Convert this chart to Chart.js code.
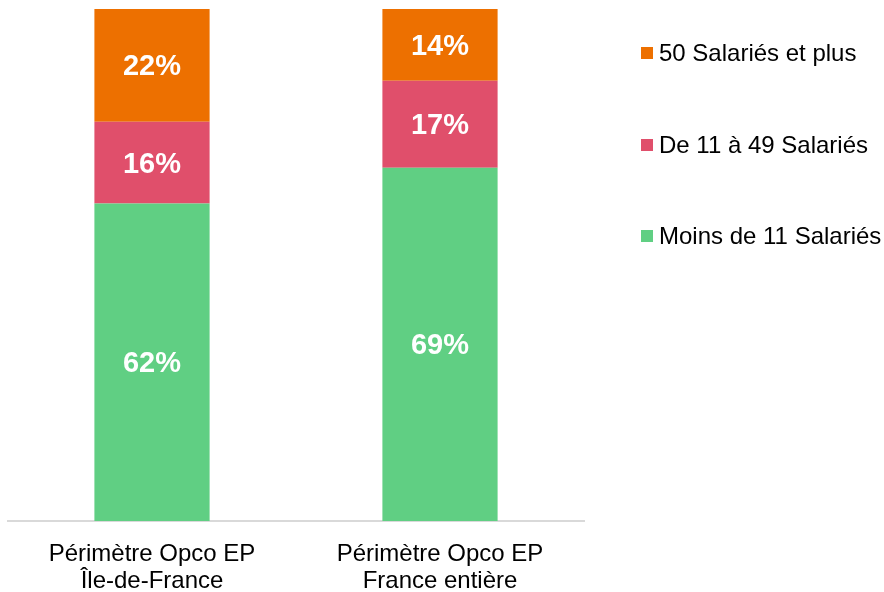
<!DOCTYPE html>
<html>
<head>
<meta charset="utf-8">
<script src="https://cdn.jsdelivr.net/npm/chart.js@4/dist/chart.umd.min.js"></script>
<style>
  html, body { margin: 0; padding: 0; background: #fff; }
  #wrap { width: 884px; height: 592px; }
</style>
</head>
<body>
<div id="wrap"><canvas id="graphique"></canvas></div>
<script>
const categories = [
  ["Périmètre Opco EP", "Île-de-France"],
  ["Périmètre Opco EP", "France entière"]
];
const moins11 = [62, 69];
const de11a49 = [16, 17];
const plus50 = [22, 14];

const police = "'Liberation Sans', Arial, sans-serif";

// étiquettes en % au centre de chaque segment
const etiquettesPlugin = {
  id: "etiquettes",
  afterDatasetsDraw(chart) {
    const ctx = chart.ctx;
    ctx.save();
    ctx.fillStyle = "#ffffff";
    ctx.font = "bold 29px " + police;
    ctx.textAlign = "center";
    ctx.textBaseline = "middle";
    chart.data.datasets.forEach((ds, i) => {
      chart.getDatasetMeta(i).data.forEach((barre, j) => {
        const y = (barre.y + barre.base) / 2;
        ctx.fillText(ds.data[j] + "%", barre.x, y + 2);
      });
    });
    ctx.restore();
  }
};

// légende à droite, dans l'ordre inverse des séries
const legendePlugin = {
  id: "legende",
  afterDraw(chart) {
    const ctx = chart.ctx;
    const x = chart.chartArea.right + 57;
    const ys = [53, 145, 236];
    const series = chart.data.datasets.slice().reverse();
    ctx.save();
    ctx.font = "24px " + police;
    ctx.textBaseline = "middle";
    ctx.textAlign = "left";
    series.forEach((ds, k) => {
      ctx.fillStyle = ds.backgroundColor;
      ctx.fillRect(x, ys[k] - 6, 12, 12);
      ctx.fillStyle = "#000000";
      ctx.fillText(ds.label, x + 18, ys[k] + 1);
    });
    ctx.restore();
  }
};

new Chart(document.getElementById("graphique").getContext("2d"), {
  type: "bar",
  data: {
    labels: categories,
    datasets: [
      { label: "Moins de 11 Salariés", data: moins11, backgroundColor: "#60CF83" },
      { label: "De 11 à 49 Salariés", data: de11a49, backgroundColor: "#E04F6B" },
      { label: "50 Salariés et plus", data: plus50, backgroundColor: "#ED7000" }
    ]
  },
  options: {
    responsive: true,
    maintainAspectRatio: false,
    animation: false,
    layout: { padding: { left: 8, right: 300, top: 9, bottom: 0 } },
    datasets: { bar: { barPercentage: 0.4, categoryPercentage: 1 } },
    plugins: {
      legend: { display: false },
      tooltip: { enabled: false }
    },
    scales: {
      x: {
        stacked: true,
        grid: { display: false },
        border: { display: true, color: "#d9d9d9", width: 2 },
        ticks: {
          color: "#000000",
          padding: 12,
          font: { family: police, size: 24, lineHeight: 1.125 }
        },
        afterFit(scale) {
          scale.height = 71;
        }
      },
      y: {
        stacked: true,
        display: false,
        min: 0,
        max: 100
      }
    }
  },
  plugins: [etiquettesPlugin, legendePlugin]
});
</script>
</body>
</html>
